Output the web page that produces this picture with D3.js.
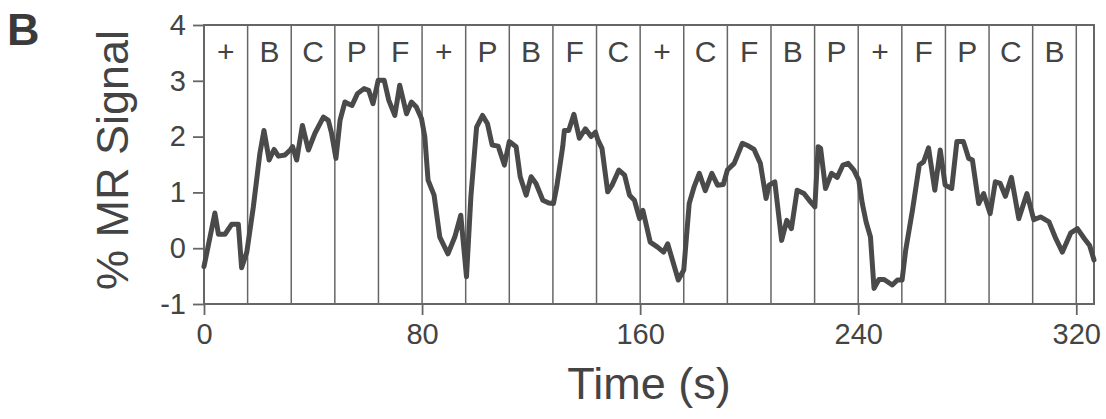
<!DOCTYPE html>
<html>
<head>
<meta charset="utf-8">
<script src="https://cdn.jsdelivr.net/npm/d3@7"></script>
<style>
  html, body { margin: 0; padding: 0; background: #fff; }
  svg { display: block; }
  text { font-family: "Liberation Sans", Arial, Helvetica, sans-serif; }
</style>
</head>
<body>
<svg id="chart" width="1106" height="419"></svg>
<script>
// ---- data ----
const panelLabel = "B";
const xLabel = "Time (s)";
const yLabel = "% MR Signal";
const xTicks = [0, 80, 160, 240, 320];
const yTicks = [-1, 0, 1, 2, 3, 4];
const blockLength = 16;
const blockLabels = ["+","B","C","P","F","+","P","B","F","C","+","C","F","B","P","+","F","P","C","B"];
const timeSeconds = [
  0, 4.0, 5.3, 7.7, 10.2, 12.6, 13.8, 15.7, 18.1, 20.5, 22.0, 23.9, 25.7, 27.3, 29.7, 31.8, 32.5, 34.0, 36.1, 38.3,
  40.7, 43.8, 45.6, 46.8, 48.4, 49.9, 51.7, 52.8, 54.3, 56.3, 58.7, 60.4, 62.0, 63.9, 66.1, 67.8, 70.0, 71.8, 74.3, 76.1,
  77.9, 79.8, 81.0, 82.2, 84.4, 86.5, 89.5, 92.0, 94.2, 96.3, 97.9, 100.0, 102.2, 104.0, 105.7, 107.9, 110.2, 112.0, 114.5, 116.0,
  118.2, 120.0, 121.8, 124.3, 126.5, 128.2, 129.4, 131.6, 132.2, 133.8, 135.7, 137.7, 139.9, 142.0, 143.6, 144.5, 146.0, 148.1, 149.7, 152.2,
  154.3, 156.1, 157.9, 159.8, 161.0, 163.7, 166.4, 168.6, 170.1, 171.9, 174.0, 176.0, 178.0, 179.8, 181.7, 183.9, 186.3, 188.4, 190.5, 192.0,
  194.5, 197.5, 199.8, 201.8, 204.1, 206.2, 207.3, 209.4, 211.9, 213.8, 215.5, 217.6, 220.1, 222.5, 224.1, 225.3, 226.2, 228.0, 230.2, 232.3,
  234.4, 236.3, 238.4, 240.2, 241.5, 242.9, 244.5, 245.8, 247.6, 249.5, 252.5, 254.4, 256.1, 257.4, 259.9, 262.4, 264.0, 265.8, 268.1, 270.1,
  271.9, 274.3, 276.2, 278.6, 280.5, 281.9, 284.2, 286.0, 288.4, 290.3, 292.1, 294.0, 296.2, 298.9, 301.9, 304.4, 306.9, 310.0, 312.5, 314.9,
  318.0, 320.4, 323.0, 324.9, 326.5
];
const signalPct = [
  -0.33, 0.63, 0.25, 0.25, 0.43, 0.43, -0.35, -0.07, 0.74, 1.70, 2.11, 1.58, 1.77, 1.65, 1.67, 1.77, 1.82, 1.58, 2.20, 1.76,
  2.06, 2.35, 2.29, 2.06, 1.61, 2.29, 2.62, 2.59, 2.56, 2.77, 2.86, 2.83, 2.59, 3.01, 3.01, 2.65, 2.38, 2.92, 2.41, 2.62,
  2.53, 2.32, 2.00, 1.22, 0.95, 0.20, -0.10, 0.20, 0.59, -0.51, 0.92, 2.17, 2.38, 2.23, 1.85, 1.83, 1.49, 1.91, 1.82, 1.28,
  0.95, 1.28, 1.16, 0.86, 0.81, 0.80, 1.10, 1.82, 2.11, 2.11, 2.40, 1.97, 2.14, 2.00, 2.08, 1.94, 1.79, 1.01, 1.13, 1.40,
  1.31, 0.95, 0.86, 0.53, 0.68, 0.11, 0.02, -0.07, 0.08, -0.22, -0.57, -0.39, 0.80, 1.10, 1.34, 1.03, 1.34, 1.13, 1.14, 1.40,
  1.52, 1.88, 1.83, 1.77, 1.52, 0.89, 1.13, 1.19, 0.14, 0.50, 0.35, 1.04, 0.98, 0.83, 0.74, 1.82, 1.79, 1.07, 1.34, 1.27,
  1.49, 1.52, 1.40, 1.22, 0.80, 0.47, 0.20, -0.72, -0.56, -0.56, -0.66, -0.57, -0.57, -0.04, 0.68, 1.49, 1.55, 1.80, 1.04, 1.76,
  1.13, 1.07, 1.91, 1.91, 1.61, 1.58, 0.80, 0.98, 0.62, 1.19, 1.16, 0.93, 1.27, 0.53, 0.98, 0.51, 0.56, 0.47, 0.17, -0.07,
  0.275, 0.35, 0.17, 0.05, -0.21
];

// ---- drawing ----
const svg = d3.select("#chart");
const frameColor = "#666";
const textColor = "#444";

const x = d3.scaleLinear().domain([0, 326.5]).range([204, 1094]);
const y = d3.scaleLinear().domain([-1, 4]).range([304, 25]);

// blocks: vertical separators and labels
const boundaries = d3.range(1, blockLabels.length + 1).map(i => i * blockLength);
svg.append("g").selectAll("line").data(boundaries).join("line")
  .attr("x1", d => x(d)).attr("x2", d => x(d))
  .attr("y1", y(4)).attr("y2", y(-1))
  .attr("stroke", frameColor).attr("stroke-width", 1.5);

svg.append("g").selectAll("text").data(blockLabels).join("text")
  .attr("x", (d, i) => x(i * blockLength + blockLength / 2))
  .attr("y", 62)
  .attr("text-anchor", "middle")
  .attr("font-size", 30)
  .attr("fill", textColor)
  .text(d => d);

// frame
svg.append("rect")
  .attr("x", x(0)).attr("y", y(4))
  .attr("width", x(326.5) - x(0)).attr("height", y(-1) - y(4))
  .attr("fill", "none").attr("stroke", frameColor).attr("stroke-width", 2);

// axes
const xAxis = d3.axisBottom(x).tickValues(xTicks).tickSize(11).tickPadding(8).tickFormat(d => String(d));
const gx = svg.append("g").attr("transform", `translate(0,${y(-1)})`).call(xAxis);
gx.select(".domain").remove();
gx.selectAll(".tick line").attr("stroke", frameColor).attr("stroke-width", 1.8);
gx.selectAll(".tick text").attr("font-size", 29).attr("fill", textColor)
  .attr("font-family", "'Liberation Sans', Arial, sans-serif");

const yAxis = d3.axisLeft(y).tickValues(yTicks).tickSize(11).tickPadding(7).tickFormat(d => String(d));
const gy = svg.append("g").attr("transform", `translate(${x(0)},0)`).call(yAxis);
gy.select(".domain").remove();
gy.selectAll(".tick line").attr("stroke", frameColor).attr("stroke-width", 1.8);
gy.selectAll(".tick text").attr("font-size", 29).attr("fill", textColor)
  .attr("font-family", "'Liberation Sans', Arial, sans-serif");

// signal line
const pts = timeSeconds.map((t, i) => [t, signalPct[i]]);
svg.append("path")
  .datum(pts)
  .attr("fill", "none")
  .attr("stroke", "#4a4a4a")
  .attr("stroke-width", 5)
  .attr("stroke-linejoin", "round")
  .attr("stroke-linecap", "round")
  .attr("d", d3.line().x(d => x(d[0])).y(d => y(d[1])));

// axis titles
svg.append("text")
  .attr("x", 649).attr("y", 399)
  .attr("text-anchor", "middle")
  .attr("font-size", 45)
  .attr("fill", textColor)
  .text(xLabel);

svg.append("text")
  .attr("transform", "translate(128,160) rotate(-90)")
  .attr("text-anchor", "middle")
  .attr("font-size", 45)
  .attr("fill", textColor)
  .text(yLabel);

// panel label
svg.append("text")
  .attr("x", 7).attr("y", 45)
  .attr("font-size", 45)
  .attr("font-weight", "bold")
  .attr("fill", "#3a3a3a")
  .text(panelLabel);
</script>
</body>
</html>
